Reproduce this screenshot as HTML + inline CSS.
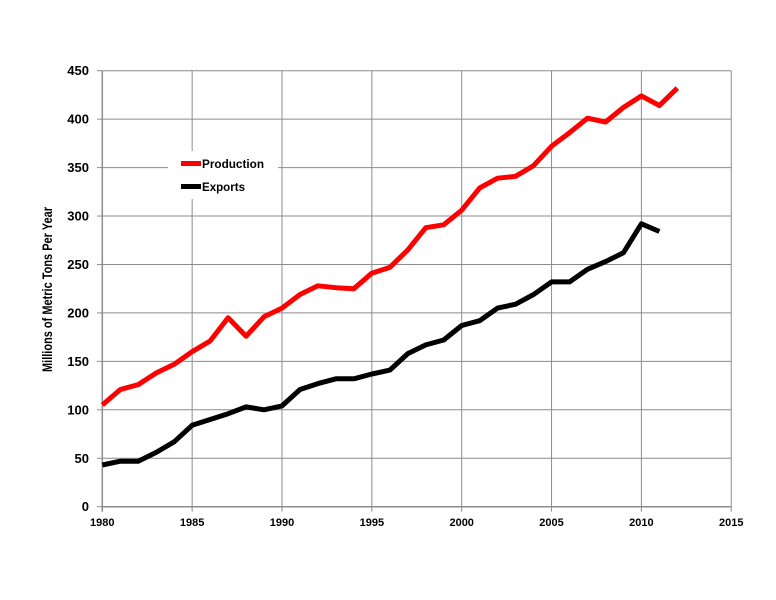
<!DOCTYPE html>
<html><head><meta charset="utf-8"><style>body{margin:0;background:#fff}svg{display:block}text{font-family:"Liberation Sans",sans-serif;font-weight:bold;fill:#000}</style></head>
<body>
<svg id="s" width="776" height="600" xmlns="http://www.w3.org/2000/svg"></svg>
<script>
const s=document.getElementById('s');
const X=y=>102.3+(y-1980)*17.97, Y=v=>506.7-v*0.9689;
let h='';
for(let v=50;v<=450;v+=50)h+=`<line x1="102" x2="731" y1="${Y(v)}" y2="${Y(v)}" stroke="#8c8c8c" stroke-width="1"/>`;
for(let y=1985;y<=2015;y+=5)h+=`<line x1="${X(y)}" x2="${X(y)}" y1="${Y(450)}" y2="${Y(0)+5}" stroke="#8c8c8c" stroke-width="1"/>`;
h+=`<line x1="102" x2="731" y1="${Y(0)}" y2="${Y(0)}" stroke="#8c8c8c" stroke-width="1.5"/>`;
h+=`<line x1="102.3" x2="102.3" y1="${Y(450)}" y2="${Y(0)+5}" stroke="#8c8c8c" stroke-width="1.5"/>`;
for(let v=0;v<=450;v+=50){h+=`<line x1="97" x2="102" y1="${Y(v)}" y2="${Y(v)}" stroke="#8c8c8c"/><text x="89" y="${Y(v)+4.5}" font-size="13" text-anchor="end">${v}</text>`;}
for(let y=1980;y<=2015;y+=5)h+=`<text x="${X(y)}" y="526" font-size="11" text-anchor="middle">${y}</text>`;
h+=`<text transform="translate(52,289.5) rotate(-90)" font-size="14" text-anchor="middle" textLength="165" lengthAdjust="spacingAndGlyphs">Millions of Metric Tons Per Year</text>`;
h+=`<rect x="168" y="151" width="110" height="48" fill="#fff"/>`;
const P=[105,121,126,138,147,160,171,195,176,196,205,219,228,226,225,241,247,265,288,291,306,329,339,341,352,372,386,401,397,412,424,414,432];
const E=[43,47,47,56,67,84,90,96,103,100,104,121,127,132,132,137,141,158,167,172,187,192,205,209,219,232,232,245,253,262,292,284];
const pl=(d,c)=>`<polyline fill="none" stroke="${c}" stroke-width="5" stroke-linejoin="round" points="${d.map((v,i)=>X(1980+i).toFixed(1)+','+Y(v).toFixed(1)).join(' ')}"/>`;
h+=pl(E,'#000')+pl(P,'#f00');
h+=`<line x1="181" x2="201" y1="163.5" y2="163.5" stroke="#f00" stroke-width="5"/><text x="202" y="168" font-size="12" textLength="62" lengthAdjust="spacingAndGlyphs">Production</text>`;
h+=`<line x1="181" x2="201" y1="186.5" y2="186.5" stroke="#000" stroke-width="5"/><text x="202" y="191" font-size="12" textLength="43" lengthAdjust="spacingAndGlyphs">Exports</text>`;
s.innerHTML=h;
</script>
</body></html>
